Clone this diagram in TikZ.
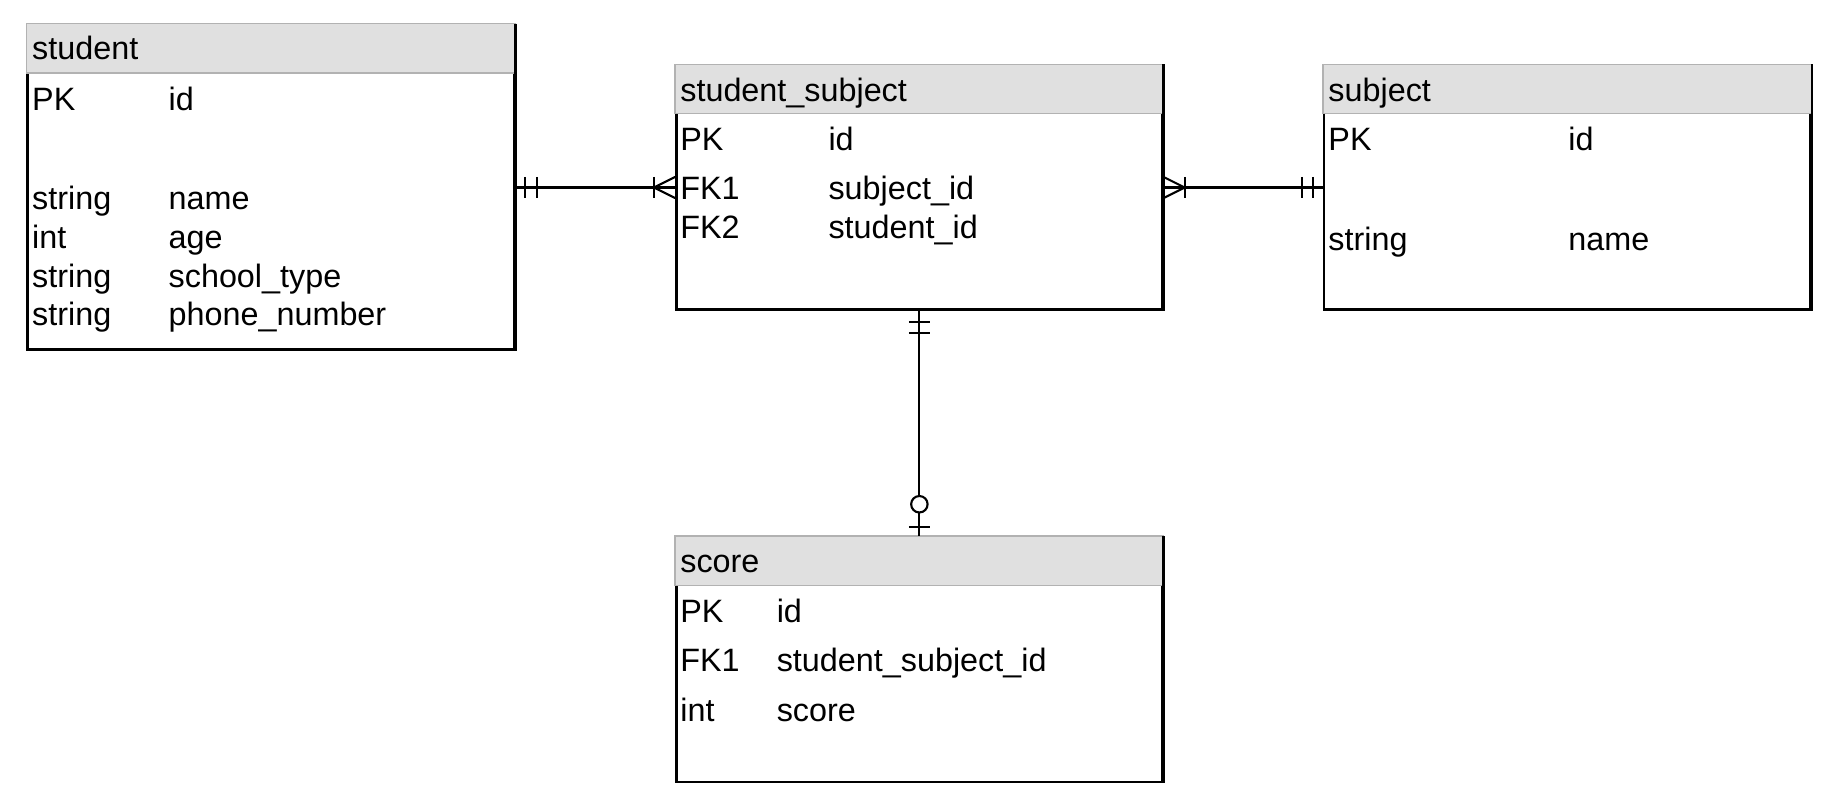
\documentclass[tikz,border=0pt]{standalone}
\usepackage{fontspec}
\setmainfont{Liberation Sans}
\definecolor{headgray}{RGB}{224,224,224}
\tikzset{
  table/.style={draw, line width=1.1pt, anchor=north west, inner sep=0pt},
  header/.style={fill=headgray, draw=gray!60, line width=0.6pt},
  field/.style={anchor=base west, inner sep=0pt, font=\fontsize{13.75pt}{16pt}\selectfont},
  rel/.style={line width=0.9pt},
}
\begin{document}
\begin{tikzpicture}[x=0.5pt, y=-0.5pt]
    \useasboundingbox (0,0) rectangle (1566,690);

    % Tables
    \node (student) [table, minimum width=206.75pt, minimum height=138pt] at (22.5,20) {};
    \node (stusub) [table, minimum width=206.5pt, minimum height=103.65pt] at (574,54.7) {};
    \node (subject) [table, minimum width=206.8pt, minimum height=103.65pt] at (1124.6,54.7) {};
    \node (score) [table, minimum width=206.5pt, minimum height=104pt] at (574,455.7) {};

    % Header bands, right edge kept black
    \foreach \t in {student,stusub,subject,score} {
        \filldraw[header] (\t.north west) rectangle ([yshift=-21pt]\t.north east);
        \draw[line width=1.1pt] (\t.north east) -- (\t.south east);
    }

    % student
    \node (st-title) [field] at (27,51) {student};
    \node (st-k1) [field] at (27,94) {PK};
    \node (st-f1) [field] at (143,94) {id};
    \node (st-k2) [field] at (27,178) {string};
    \node (st-f2) [field] at (143,178) {name};
    \node (st-k3) [field] at (27,211) {int};
    \node (st-f3) [field] at (143,211) {age};
    \node (st-k4) [field] at (27,244) {string};
    \node (st-f4) [field] at (143,244) {school\_type};
    \node (st-k5) [field] at (27,277) {string};
    \node (st-f5) [field] at (143,277) {phone\_number};

    % student_subject
    \node (ss-title) [field] at (578,86) {student\_subject};
    \node (ss-k1) [field] at (578,128) {PK};
    \node (ss-f1) [field] at (704,128) {id};
    \node (ss-k2) [field] at (578,170) {FK1};
    \node (ss-f2) [field] at (704,170) {subject\_id};
    \node (ss-k3) [field] at (578,203) {FK2};
    \node (ss-f3) [field] at (704,203) {student\_id};

    % subject
    \node (sj-title) [field] at (1129,86) {subject};
    \node (sj-k1) [field] at (1129,128) {PK};
    \node (sj-f1) [field] at (1333,128) {id};
    \node (sj-k2) [field] at (1129,213) {string};
    \node (sj-f2) [field] at (1333,213) {name};

    % score
    \node (sc-title) [field] at (578,487) {score};
    \node (sc-k1) [field] at (578,529) {PK};
    \node (sc-f1) [field] at (660,529) {id};
    \node (sc-k2) [field] at (578,571) {FK1};
    \node (sc-f2) [field] at (660,571) {student\_subject\_id};
    \node (sc-k3) [field] at (578,613) {int};
    \node (sc-f3) [field] at (660,613) {score};

    % Relations
    \coordinate (st-end) at (stusub.west -| student.east);
    \draw[rel] (st-end) -- (stusub.west);
    \draw[rel] (stusub) -- (subject);
    \draw[rel] (stusub) -- (score);

    % student: mandatory one
    \draw[rel] ([xshift=4.25pt]st-end) +(0,-9) -- +(0,9);
    \draw[rel] ([xshift=9pt]st-end) +(0,-9) -- +(0,9);
    % student_subject (left): one or many
    \draw[rel] ([xshift=-9pt]stusub.west) +(0,-9) -- +(0,9);
    \draw[rel] ([xshift=-9pt]stusub.west) -- +(18,-9);
    \draw[rel] ([xshift=-9pt]stusub.west) -- +(18,9);
    % student_subject (right): one or many
    \draw[rel] ([xshift=9pt]stusub.east) +(0,-9) -- +(0,9);
    \draw[rel] ([xshift=9pt]stusub.east) -- +(-18,-9);
    \draw[rel] ([xshift=9pt]stusub.east) -- +(-18,9);
    % subject: mandatory one
    \draw[rel] ([xshift=-4.25pt]subject.west) +(0,-9) -- +(0,9);
    \draw[rel] ([xshift=-9pt]subject.west) +(0,-9) -- +(0,9);
    % student_subject (bottom): mandatory one
    \draw[rel] ([yshift=-4.8pt]stusub.south) +(-9,0) -- +(9,0);
    \draw[rel] ([yshift=-9.5pt]stusub.south) +(-9,0) -- +(9,0);
    % score: zero or one
    \draw[rel] ([yshift=4pt]score.north) +(-9,0) -- +(9,0);
    \draw[rel, fill=white] ([yshift=13.5pt]score.north) circle (3.5pt);

\end{tikzpicture}
\end{document}
